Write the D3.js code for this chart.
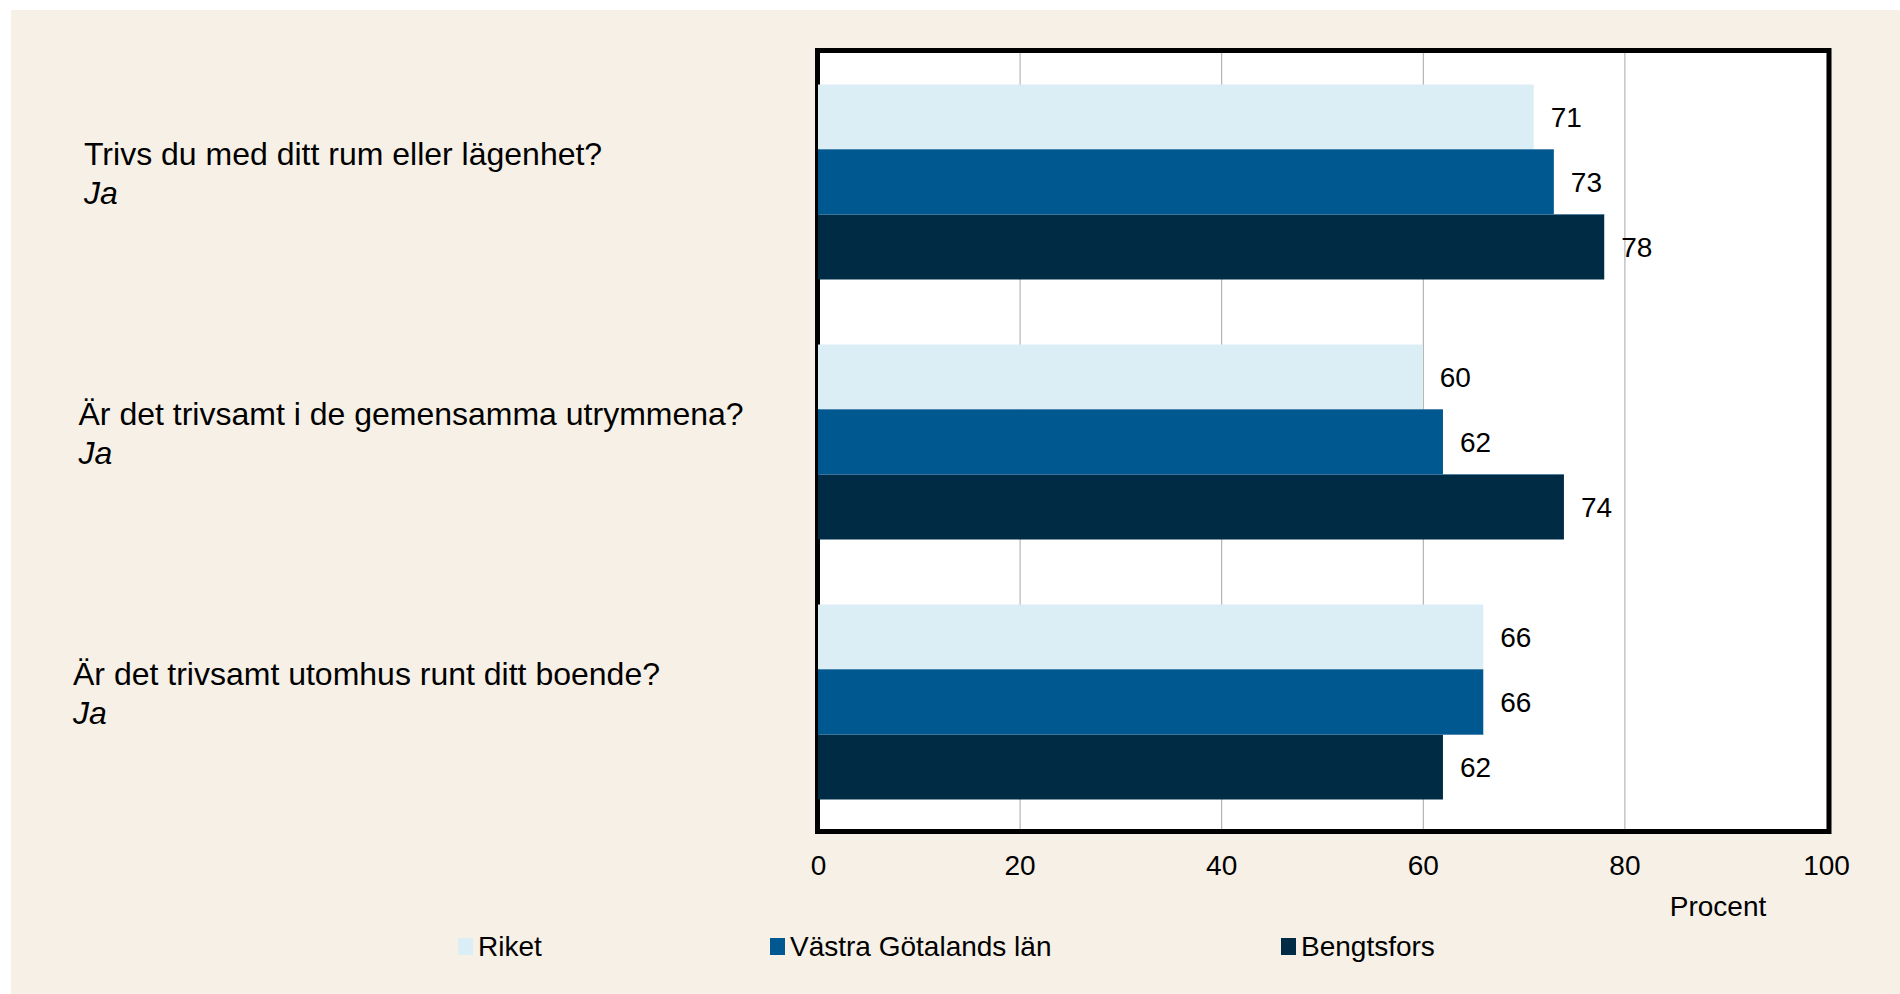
<!DOCTYPE html>
<html>
<head>
<meta charset="utf-8">
<script src="https://cdn.jsdelivr.net/npm/d3@7"></script>
<style>
  html, body { margin: 0; padding: 0; background: #ffffff; }
  svg { display: block; }
  text { font-family: "Liberation Sans", Arial, sans-serif; }
</style>
</head>
<body>
<svg id="chart" width="1900" height="994"></svg>
<script>
const questions = [
  "Trivs du med ditt rum eller lägenhet?",
  "Är det trivsamt i de gemensamma utrymmena?",
  "Är det trivsamt utomhus runt ditt boende?"
];
const answerLabel = "Ja";
const seriesNames = ["Riket", "Västra Götalands län", "Bengtsfors"];
const riket = [71, 60, 66];
const vastraGotaland = [73, 62, 66];
const bengtsfors = [78, 74, 62];
const xTicks = [0, 20, 40, 60, 80, 100];
const axisTitle = "Procent";

const seriesValues = [riket, vastraGotaland, bengtsfors];
const colors = ["#dbeef5", "#005891", "#002b45"];

const svg = d3.select("#chart");
svg.append("rect").attr("x", 11).attr("y", 10).attr("width", 1889).attr("height", 984).attr("fill", "#f7f0e7");

const x = d3.scaleLinear().domain([0, 100]).range([818, 1826]);
const y = d3.scaleBand().domain(questions).range([52, 832]).paddingInner(0.25).paddingOuter(0.125);
const ySub = d3.scaleBand().domain(seriesNames).range([0, y.bandwidth()]);

// plot background
svg.append("rect").attr("x", x(0)).attr("y", 51).attr("width", x(100) - x(0)).attr("height", 829 - 51).attr("fill", "#ffffff");

// gridlines
svg.append("g").selectAll("line").data(xTicks.filter(t => t > 0 && t < 100)).join("line")
  .attr("x1", d => x(d) + 0.5).attr("x2", d => x(d) + 0.5)
  .attr("y1", 51).attr("y2", 829)
  .attr("stroke", "#a6a6a6").attr("stroke-width", 1);

// frame
svg.append("rect").attr("x", 817.5).attr("y", 50.5).attr("width", 1829 - 817.5).attr("height", 831.5 - 50.5)
  .attr("fill", "none").attr("stroke", "#000000").attr("stroke-width", 5);

// bars
const rows = [];
questions.forEach((q, i) => seriesNames.forEach((s, j) => rows.push({ q, s, j, v: seriesValues[j][i] })));

svg.append("g").selectAll("rect").data(rows).join("rect")
  .attr("x", x(0))
  .attr("y", d => y(d.q) + ySub(d.s))
  .attr("width", d => x(d.v) - x(0))
  .attr("height", ySub.bandwidth())
  .attr("fill", d => colors[d.j]);

// thin separator lines between bars
svg.append("g").selectAll("line").data(rows.filter(d => d.j > 0)).join("line")
  .attr("x1", x(0)).attr("x2", d => Math.max(x(d.v), x(seriesValues[d.j - 1][questions.indexOf(d.q)])))
  .attr("y1", d => y(d.q) + ySub(d.s)).attr("y2", d => y(d.q) + ySub(d.s))
  .attr("stroke", "#3f7aa6").attr("stroke-width", 1).attr("opacity", 0.7);

// value labels
svg.append("g").selectAll("text").data(rows).join("text")
  .attr("x", d => x(d.v) + 17)
  .attr("y", d => y(d.q) + ySub(d.s) + ySub.bandwidth() / 2)
  .attr("dy", "0.35em")
  .attr("font-size", 28)
  .attr("fill", "#000")
  .text(d => d.v);

// x axis
const xAxis = d3.axisBottom(x).tickValues(xTicks).tickSize(0).tickPadding(0);
const gx = svg.append("g").attr("transform", "translate(0,865)").call(xAxis);
gx.select(".domain").remove();
gx.selectAll("text").attr("font-size", 28).attr("fill", "#000").attr("dy", "0.35em")
  .attr("font-family", "Liberation Sans, Arial, sans-serif");

svg.append("text").attr("x", 1718).attr("y", 906).attr("dy", "0.35em").attr("text-anchor", "middle")
  .attr("font-size", 28).attr("fill", "#000").text(axisTitle);

// category labels
const labels = svg.append("g").selectAll("g").data(questions).join("g")
  .attr("transform", (d, i) => `translate(${84 - 5.5 * i},${y(d) + y.bandwidth() / 2})`);
labels.append("text").attr("y", -28).attr("dy", "0.35em").attr("font-size", 32).attr("fill", "#000").text(d => d);
labels.append("text").attr("y", 11).attr("dy", "0.35em").attr("font-size", 32).attr("font-style", "italic").attr("fill", "#000").text(answerLabel);

// legend
const legendX = [458, 770, 1281];
const legend = svg.append("g").selectAll("g").data(seriesNames).join("g")
  .attr("transform", (d, i) => `translate(${legendX[i]},946)`);
legend.append("rect").attr("x", 0).attr("y", -8).attr("width", 15).attr("height", 17).attr("fill", (d, i) => colors[i]);
legend.append("text").attr("x", 20).attr("y", 0).attr("dy", "0.35em").attr("font-size", 28).attr("fill", "#000").text(d => d);
</script>
</body>
</html>
